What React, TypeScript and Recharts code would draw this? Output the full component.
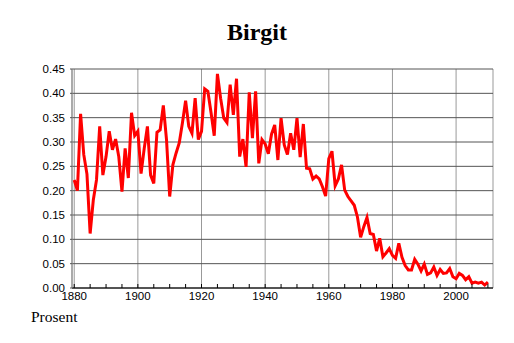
import React from 'react'
import { LineChart, Line, XAxis, YAxis, CartesianGrid } from 'recharts'

const firstYear = 1880
const shares = [
  0.222, 0.2, 0.358, 0.274, 0.234, 0.112, 0.181, 0.222, 0.332, 0.232,
  0.27, 0.322, 0.284, 0.306, 0.27, 0.198, 0.287, 0.226, 0.36, 0.313,
  0.322, 0.235, 0.287, 0.332, 0.232, 0.215, 0.32, 0.325, 0.375, 0.305,
  0.188, 0.253, 0.277, 0.298, 0.339, 0.385, 0.332, 0.318, 0.39, 0.305,
  0.322, 0.409, 0.404, 0.36, 0.313, 0.44, 0.39, 0.349, 0.34, 0.418,
  0.356, 0.43, 0.27, 0.306, 0.249, 0.402, 0.308, 0.404, 0.256, 0.305,
  0.296, 0.276, 0.316, 0.335, 0.263, 0.349, 0.294, 0.274, 0.318, 0.284,
  0.349, 0.269, 0.337, 0.246, 0.245, 0.224, 0.23, 0.224, 0.208, 0.189,
  0.266, 0.281, 0.21, 0.224, 0.253, 0.201, 0.188, 0.179, 0.17, 0.146,
  0.104, 0.126, 0.145, 0.112, 0.11, 0.076, 0.102, 0.064, 0.072, 0.081,
  0.067, 0.061, 0.092, 0.063, 0.046, 0.037, 0.037, 0.059, 0.049, 0.035,
  0.049, 0.028, 0.031, 0.043, 0.026, 0.038, 0.03, 0.031, 0.04, 0.023,
  0.019, 0.03, 0.026, 0.017, 0.023, 0.01, 0.012, 0.01, 0.012, 0.006,
  0.012,
]
const years = shares.map((_, i) => firstYear + i)

const yTicks = [0, 0.05, 0.1, 0.15, 0.2, 0.25, 0.3, 0.35, 0.4, 0.45]
const xTicks = Array.from({ length: 27 }, (_, i) => 1880 + i * 5)
const labelYears = [1880, 1900, 1920, 1940, 1960, 1980, 2000]
const xDomain = [1879.3, 2011.6]

const data = years.map((year, i) => ({ year, value: shares[i] }))

const sans = 'Liberation Sans, Arial, sans-serif'
const serif = 'Liberation Serif, Times New Roman, serif'

const XTick = ({ x, y, payload }: any) => {
  const labelled = labelYears.includes(payload.value)
  return (
    <g>
      <line x1={x} x2={x} y1={y} y2={y - 4} stroke="#000" strokeWidth={1} />
      {labelled && (
        <text x={x} y={y + 12} textAnchor="middle" fontFamily={sans} fontSize={11.5} fill="#000">
          {payload.value}
        </text>
      )}
    </g>
  )
}

export default function App() {
  return (
    <div style={{ position: 'absolute', left: 0, top: 0, width: 514, height: 343, background: '#fff' }}>
      <div
        style={{
          position: 'absolute', left: 0, top: 18, width: 514, textAlign: 'center',
          fontFamily: serif, fontWeight: 'bold', fontSize: 24, lineHeight: '28px',
        }}
      >
        Birgit
      </div>
      <div
        style={{
          position: 'absolute', left: 31, top: 308, fontFamily: serif, fontSize: 15.5, lineHeight: '18px',
        }}
      >
        Prosent
      </div>
      <LineChart width={514} height={343} data={data} margin={{ top: 69, right: 21, bottom: 35, left: 0 }}>
        <CartesianGrid stroke="#999" horizontal={false} xAxisId="grid" />
        <CartesianGrid stroke="#555" vertical={false} />
        <XAxis
          xAxisId="grid"
          dataKey="year"
          type="number"
          domain={xDomain}
          allowDataOverflow
          ticks={labelYears}
          interval={0}
          hide
        />
        <XAxis
          dataKey="year"
          type="number"
          domain={xDomain}
          allowDataOverflow
          ticks={xTicks}
          interval={0}
          tick={<XTick />}
          tickLine={false}
          tickSize={0}
          tickMargin={0}
          height={20}
          stroke="#000"
        />
        <YAxis
          domain={[0, 0.45]}
          ticks={yTicks}
          interval={0}
          width={72}
          tickFormatter={(v: number) => v.toFixed(2)}
          tick={{ fontFamily: sans, fontSize: 11.5, fill: '#000' }}
          tickSize={2}
          tickMargin={5}
          stroke="#888"
          tickLine={{ stroke: '#555' }}
        />
        <Line
          type="linear"
          dataKey="value"
          stroke="#ff0000"
          strokeWidth={3}
          dot={false}
          isAnimationActive={false}
        />
      </LineChart>
    </div>
  )
}
